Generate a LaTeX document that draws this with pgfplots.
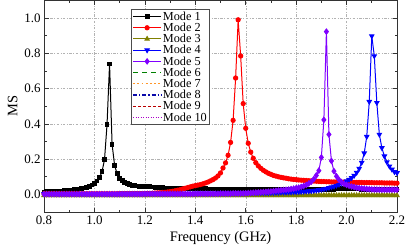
\documentclass[border=0pt]{standalone}
\usepackage{fontspec}
\setmainfont{Liberation Serif}
\usepackage{pgfplots}
\pgfplotsset{compat=1.18}
\definecolor{cviolet}{RGB}{128,0,255}
\definecolor{colive}{RGB}{128,128,0}
\definecolor{cgreen}{RGB}{0,128,0}
\definecolor{corange}{RGB}{255,150,40}
\definecolor{cnavy}{RGB}{10,10,170}
\definecolor{cdred}{RGB}{185,0,0}
\definecolor{cpurple}{RGB}{170,0,200}
\begin{document}
\begin{tikzpicture}
\begin{axis}[name=ax, scale only axis, width=353bp, height=211.7bp,
  xmin=0.8, xmax=2.2, ymin=-0.1, ymax=1.1,
  xtick={0.8,1.0,1.2,1.4,1.6,1.8,2.0,2.2},
  ytick={0,0.2,0.4,0.6,0.8,1.0},
  minor x tick num=1, minor y tick num=1,
  tick align=inside,
  major tick length=4.5bp, minor tick length=2.5bp,
  every tick/.style={black!80, line width=0.7bp},
  /pgf/number format/assume math mode=true,
  xticklabel style={/pgf/number format/.cd, fixed, fixed zerofill, precision=1},
  yticklabel style={/pgf/number format/.cd, fixed, fixed zerofill, precision=1},
  ticklabel style={font=\fontsize{13}{15}\selectfont},
  label style={font=\fontsize{14.5}{17}\selectfont},
  xlabel={Frequency (GHz)}, ylabel={MS},
  grid=major,
  major grid style={black!30, line width=0.4bp, dash pattern=on 2.5bp off 1.5bp on 0.8bp off 1.5bp},
  axis line style={black!80, line width=0.9bp},
  legend style={at={(0.2465,0.959)}, anchor=north west, draw=black!70, line width=0.6bp,
    font=\fontsize{12.3}{14}\selectfont, inner sep=1.2bp, row sep=-0.8bp,
    nodes={inner sep=1.2bp, text height=8.6bp, text depth=1bp}},
  legend cell align=left,
  legend image code/.code={\draw[mark repeat=2,mark phase=2,#1] plot coordinates {(0bp,0bp) (14bp,0bp) (28bp,0bp)};},
]
\addplot[black, line width=1bp, mark=square*, mark size=1.9bp, mark options={solid}] coordinates {
(0.80,0.014)(0.81,0.015)(0.82,0.015)(0.83,0.016)(0.84,0.017)(0.85,0.018)(0.86,0.018)(0.87,0.019)(0.88,0.021)(0.89,0.022)
(0.90,0.023)(0.91,0.025)(0.92,0.026)(0.93,0.029)(0.94,0.031)(0.95,0.034)(0.96,0.037)(0.97,0.041)(0.98,0.047)(0.99,0.054)
(1.00,0.063)(1.01,0.076)(1.02,0.095)(1.03,0.129)(1.04,0.197)(1.05,0.397)(1.06,0.740)(1.07,0.285)(1.08,0.165)(1.09,0.117)
(1.10,0.092)(1.11,0.077)(1.12,0.068)(1.13,0.061)(1.14,0.056)(1.15,0.053)(1.16,0.050)(1.17,0.048)(1.18,0.047)(1.19,0.046)
(1.20,0.046)(1.21,0.044)(1.22,0.043)(1.23,0.042)(1.24,0.041)(1.25,0.040)(1.26,0.039)(1.27,0.038)(1.28,0.037)(1.29,0.037)
(1.30,0.037)(1.31,0.036)(1.32,0.036)(1.33,0.035)(1.34,0.035)(1.35,0.034)(1.36,0.034)(1.37,0.034)(1.38,0.033)(1.39,0.033)
(1.40,0.033)(1.41,0.032)(1.42,0.032)(1.43,0.032)(1.44,0.032)(1.45,0.031)(1.46,0.031)(1.47,0.031)(1.48,0.031)(1.49,0.030)
(1.50,0.030)(1.51,0.030)(1.52,0.030)(1.53,0.030)(1.54,0.030)(1.55,0.029)(1.56,0.029)(1.57,0.029)(1.58,0.029)(1.59,0.029)
(1.60,0.029)(1.61,0.028)(1.62,0.028)(1.63,0.028)(1.64,0.028)(1.65,0.028)(1.66,0.028)(1.67,0.028)(1.68,0.028)(1.69,0.028)
(1.70,0.028)(1.71,0.027)(1.72,0.027)(1.73,0.027)(1.74,0.027)(1.75,0.027)(1.76,0.027)(1.77,0.027)(1.78,0.027)(1.79,0.027)
(1.80,0.027)(1.81,0.027)(1.82,0.027)(1.83,0.027)(1.84,0.027)(1.85,0.027)(1.86,0.027)(1.87,0.027)(1.88,0.027)(1.89,0.027)
(1.90,0.027)(1.91,0.028)(1.92,0.028)(1.93,0.028)(1.94,0.029)(1.95,0.030)(1.96,0.031)(1.97,0.033)(1.98,0.034)(1.99,0.035)
(2.00,0.035)(2.01,0.035)(2.02,0.034)(2.03,0.033)(2.04,0.032)(2.05,0.031)(2.06,0.030)(2.07,0.030)(2.08,0.030)(2.09,0.030)
(2.10,0.030)(2.11,0.030)(2.12,0.030)(2.13,0.030)(2.14,0.030)(2.15,0.030)(2.16,0.030)(2.17,0.030)(2.18,0.030)(2.19,0.030)(2.20,0.030)};
\addlegendentry{Mode 1}
\addplot[red, line width=1bp, mark=*, mark size=2.1bp, mark options={solid}] coordinates {
(0.80,0.004)(0.81,0.004)(0.82,0.004)(0.83,0.004)(0.84,0.004)(0.85,0.004)(0.86,0.004)(0.87,0.004)(0.88,0.004)(0.89,0.004)
(0.90,0.004)(0.91,0.004)(0.92,0.004)(0.93,0.004)(0.94,0.004)(0.95,0.004)(0.96,0.004)(0.97,0.004)(0.98,0.004)(0.99,0.004)
(1.00,0.004)(1.01,0.004)(1.02,0.004)(1.03,0.004)(1.04,0.004)(1.05,0.004)(1.06,0.004)(1.07,0.004)(1.08,0.004)(1.09,0.004)
(1.10,0.005)(1.11,0.005)(1.12,0.005)(1.13,0.005)(1.14,0.005)(1.15,0.005)(1.16,0.005)(1.17,0.005)(1.18,0.005)(1.19,0.005)
(1.20,0.005)(1.21,0.006)(1.22,0.006)(1.23,0.007)(1.24,0.008)(1.25,0.009)(1.26,0.010)(1.27,0.011)(1.28,0.012)(1.29,0.014)
(1.30,0.016)(1.31,0.018)(1.32,0.021)(1.33,0.024)(1.34,0.027)(1.35,0.031)(1.36,0.035)(1.37,0.039)(1.38,0.043)(1.39,0.047)
(1.40,0.050)(1.41,0.053)(1.42,0.056)(1.43,0.060)(1.44,0.065)(1.45,0.070)(1.46,0.077)(1.47,0.084)(1.48,0.093)(1.49,0.105)
(1.50,0.122)(1.51,0.150)(1.52,0.179)(1.53,0.222)(1.54,0.295)(1.55,0.420)(1.56,0.660)(1.57,0.990)(1.58,0.785)(1.59,0.515)
(1.60,0.375)(1.61,0.290)(1.62,0.240)(1.63,0.205)(1.64,0.180)(1.65,0.162)(1.66,0.148)(1.67,0.137)(1.68,0.128)(1.69,0.120)
(1.70,0.114)(1.71,0.108)(1.72,0.104)(1.73,0.100)(1.74,0.097)(1.75,0.094)(1.76,0.092)(1.77,0.089)(1.78,0.087)(1.79,0.085)
(1.80,0.084)(1.81,0.082)(1.82,0.081)(1.83,0.080)(1.84,0.079)(1.85,0.078)(1.86,0.077)(1.87,0.076)(1.88,0.075)(1.89,0.074)
(1.90,0.073)(1.91,0.073)(1.92,0.072)(1.93,0.072)(1.94,0.071)(1.95,0.071)(1.96,0.071)(1.97,0.070)(1.98,0.070)(1.99,0.070)
(2.00,0.069)(2.01,0.069)(2.02,0.069)(2.03,0.068)(2.04,0.068)(2.05,0.068)(2.06,0.068)(2.07,0.067)(2.08,0.067)(2.09,0.067)
(2.10,0.067)(2.11,0.066)(2.12,0.066)(2.13,0.066)(2.14,0.066)(2.15,0.065)(2.16,0.065)(2.17,0.065)(2.18,0.065)(2.19,0.064)(2.20,0.064)};
\addlegendentry{Mode 2}
\addplot[colive, line width=1bp, mark=triangle*, mark size=2.4bp, mark options={solid}] coordinates {
(0.80,-0.005)(0.81,-0.005)(0.82,-0.005)(0.83,-0.005)(0.84,-0.005)(0.85,-0.005)(0.86,-0.005)(0.87,-0.005)(0.88,-0.005)(0.89,-0.005)
(0.90,-0.005)(0.91,-0.005)(0.92,-0.005)(0.93,-0.005)(0.94,-0.005)(0.95,-0.005)(0.96,-0.005)(0.97,-0.005)(0.98,-0.005)(0.99,-0.005)
(1.00,-0.005)(1.01,-0.005)(1.02,-0.005)(1.03,-0.005)(1.04,-0.005)(1.05,-0.005)(1.06,-0.005)(1.07,-0.005)(1.08,-0.005)(1.09,-0.005)
(1.10,-0.005)(1.11,-0.005)(1.12,-0.005)(1.13,-0.005)(1.14,-0.005)(1.15,-0.005)(1.16,-0.005)(1.17,-0.005)(1.18,-0.005)(1.19,-0.005)
(1.20,-0.005)(1.21,-0.005)(1.22,-0.005)(1.23,-0.005)(1.24,-0.005)(1.25,-0.005)(1.26,-0.005)(1.27,-0.005)(1.28,-0.005)(1.29,-0.005)
(1.30,-0.005)(1.31,-0.005)(1.32,-0.005)(1.33,-0.005)(1.34,-0.005)(1.35,-0.005)(1.36,-0.005)(1.37,-0.005)(1.38,-0.005)(1.39,-0.005)
(1.40,-0.005)(1.41,-0.005)(1.42,-0.005)(1.43,-0.005)(1.44,-0.005)(1.45,-0.005)(1.46,-0.005)(1.47,-0.005)(1.48,-0.005)(1.49,-0.005)
(1.50,-0.005)(1.51,-0.005)(1.52,-0.005)(1.53,-0.005)(1.54,-0.005)(1.55,-0.005)(1.56,-0.005)(1.57,-0.005)(1.58,-0.005)(1.59,-0.005)
(1.60,-0.005)(1.61,-0.005)(1.62,-0.005)(1.63,-0.005)(1.64,-0.005)(1.65,-0.005)(1.66,-0.005)(1.67,-0.005)(1.68,-0.005)(1.69,-0.005)
(1.70,-0.005)(1.71,-0.005)(1.72,-0.005)(1.73,-0.005)(1.74,-0.005)(1.75,-0.005)(1.76,-0.005)(1.77,-0.005)(1.78,-0.005)(1.79,-0.005)
(1.80,-0.005)(1.81,-0.005)(1.82,-0.005)(1.83,-0.005)(1.84,-0.005)(1.85,-0.005)(1.86,-0.005)(1.87,-0.005)(1.88,-0.005)(1.89,-0.005)
(1.90,-0.005)(1.91,-0.005)(1.92,-0.005)(1.93,-0.005)(1.94,-0.005)(1.95,-0.005)(1.96,-0.005)(1.97,-0.005)(1.98,-0.005)(1.99,-0.005)
(2.00,-0.005)(2.01,-0.005)(2.02,-0.005)(2.03,-0.005)(2.04,-0.005)(2.05,-0.005)(2.06,-0.005)(2.07,-0.005)(2.08,-0.005)(2.09,-0.005)
(2.10,-0.005)(2.11,-0.005)(2.12,-0.005)(2.13,-0.005)(2.14,-0.005)(2.15,-0.005)(2.16,-0.005)(2.17,-0.005)(2.18,-0.005)(2.19,-0.005)(2.20,-0.005)};
\addlegendentry{Mode 3}
\addplot[blue, line width=1bp, mark=triangle*, mark size=2.4bp, mark options={solid, rotate=180}] coordinates {
(0.80,0.004)(0.81,0.004)(0.82,0.004)(0.83,0.004)(0.84,0.004)(0.85,0.004)(0.86,0.004)(0.87,0.004)(0.88,0.004)(0.89,0.004)
(0.90,0.004)(0.91,0.004)(0.92,0.004)(0.93,0.004)(0.94,0.004)(0.95,0.004)(0.96,0.004)(0.97,0.004)(0.98,0.004)(0.99,0.004)
(1.00,0.004)(1.01,0.004)(1.02,0.004)(1.03,0.004)(1.04,0.004)(1.05,0.004)(1.06,0.004)(1.07,0.004)(1.08,0.004)(1.09,0.004)
(1.10,0.005)(1.11,0.005)(1.12,0.005)(1.13,0.005)(1.14,0.005)(1.15,0.005)(1.16,0.005)(1.17,0.005)(1.18,0.005)(1.19,0.005)
(1.20,0.005)(1.21,0.005)(1.22,0.005)(1.23,0.005)(1.24,0.005)(1.25,0.005)(1.26,0.005)(1.27,0.005)(1.28,0.005)(1.29,0.005)
(1.30,0.005)(1.31,0.005)(1.32,0.005)(1.33,0.005)(1.34,0.005)(1.35,0.005)(1.36,0.005)(1.37,0.005)(1.38,0.005)(1.39,0.005)
(1.40,0.006)(1.41,0.006)(1.42,0.006)(1.43,0.006)(1.44,0.006)(1.45,0.006)(1.46,0.006)(1.47,0.006)(1.48,0.006)(1.49,0.006)
(1.50,0.007)(1.51,0.007)(1.52,0.007)(1.53,0.007)(1.54,0.007)(1.55,0.007)(1.56,0.007)(1.57,0.007)(1.58,0.007)(1.59,0.007)
(1.60,0.008)(1.61,0.008)(1.62,0.008)(1.63,0.008)(1.64,0.008)(1.65,0.009)(1.66,0.009)(1.67,0.009)(1.68,0.009)(1.69,0.009)
(1.70,0.010)(1.71,0.010)(1.72,0.011)(1.73,0.011)(1.74,0.012)(1.75,0.012)(1.76,0.012)(1.77,0.013)(1.78,0.013)(1.79,0.014)
(1.80,0.014)(1.81,0.015)(1.82,0.016)(1.83,0.017)(1.84,0.018)(1.85,0.019)(1.86,0.020)(1.87,0.022)(1.88,0.024)(1.89,0.026)
(1.90,0.028)(1.91,0.031)(1.92,0.034)(1.93,0.038)(1.94,0.042)(1.95,0.046)(1.96,0.051)(1.97,0.056)(1.98,0.062)(1.99,0.068)
(2.00,0.076)(2.01,0.084)(2.02,0.094)(2.03,0.107)(2.04,0.124)(2.05,0.147)(2.06,0.181)(2.07,0.234)(2.08,0.328)(2.09,0.526)
(2.10,0.898)(2.11,0.785)(2.12,0.520)(2.13,0.340)(2.14,0.264)(2.15,0.217)(2.16,0.184)(2.17,0.160)(2.18,0.142)(2.19,0.128)(2.20,0.122)};
\addlegendentry{Mode 4}
\addplot[cviolet, line width=1bp, mark=diamond*, mark size=2.6bp, mark options={solid}] coordinates {
(0.80,0.002)(0.81,0.002)(0.82,0.002)(0.83,0.002)(0.84,0.002)(0.85,0.002)(0.86,0.002)(0.87,0.002)(0.88,0.002)(0.89,0.002)
(0.90,0.002)(0.91,0.002)(0.92,0.002)(0.93,0.002)(0.94,0.002)(0.95,0.002)(0.96,0.002)(0.97,0.002)(0.98,0.002)(0.99,0.002)
(1.00,0.002)(1.01,0.002)(1.02,0.002)(1.03,0.002)(1.04,0.002)(1.05,0.002)(1.06,0.002)(1.07,0.002)(1.08,0.002)(1.09,0.002)
(1.10,0.002)(1.11,0.002)(1.12,0.002)(1.13,0.002)(1.14,0.002)(1.15,0.002)(1.16,0.002)(1.17,0.002)(1.18,0.002)(1.19,0.002)
(1.20,0.003)(1.21,0.003)(1.22,0.003)(1.23,0.003)(1.24,0.003)(1.25,0.003)(1.26,0.003)(1.27,0.003)(1.28,0.003)(1.29,0.003)
(1.30,0.003)(1.31,0.003)(1.32,0.003)(1.33,0.003)(1.34,0.003)(1.35,0.003)(1.36,0.003)(1.37,0.003)(1.38,0.003)(1.39,0.003)
(1.40,0.004)(1.41,0.004)(1.42,0.004)(1.43,0.004)(1.44,0.004)(1.45,0.004)(1.46,0.004)(1.47,0.004)(1.48,0.004)(1.49,0.004)
(1.50,0.005)(1.51,0.005)(1.52,0.005)(1.53,0.005)(1.54,0.005)(1.55,0.006)(1.56,0.006)(1.57,0.006)(1.58,0.006)(1.59,0.006)
(1.60,0.007)(1.61,0.008)(1.62,0.009)(1.63,0.010)(1.64,0.011)(1.65,0.012)(1.66,0.013)(1.67,0.014)(1.68,0.015)(1.69,0.016)
(1.70,0.017)(1.71,0.019)(1.72,0.021)(1.73,0.022)(1.74,0.024)(1.75,0.025)(1.76,0.027)(1.77,0.028)(1.78,0.031)(1.79,0.033)
(1.80,0.036)(1.81,0.039)(1.82,0.043)(1.83,0.048)(1.84,0.054)(1.85,0.062)(1.86,0.072)(1.87,0.087)(1.88,0.108)(1.89,0.135)
(1.90,0.210)(1.91,0.423)(1.92,0.923)(1.93,0.340)(1.94,0.190)(1.95,0.132)(1.96,0.103)(1.97,0.083)(1.98,0.070)(1.99,0.060)
(2.00,0.054)(2.01,0.049)(2.02,0.045)(2.03,0.042)(2.04,0.038)(2.05,0.036)(2.06,0.034)(2.07,0.033)(2.08,0.031)(2.09,0.030)
(2.10,0.029)(2.11,0.028)(2.12,0.028)(2.13,0.027)(2.14,0.027)(2.15,0.027)(2.16,0.027)(2.17,0.027)(2.18,0.027)(2.19,0.027)(2.20,0.027)};
\addlegendentry{Mode 5}
\addplot[cgreen, line width=1.1bp, dash pattern=on 5bp off 4bp] coordinates {
(0.80,0.000)(1.00,0.000)(1.20,0.000)(1.40,0.000)(1.60,0.000)(1.80,0.000)(2.00,0.000)(2.20,0.000)};
\addlegendentry{Mode 6}
\addplot[corange, line width=1.2bp, dash pattern=on 1.6bp off 2.6bp] coordinates {
(0.80,0.002)(1.00,0.002)(1.20,0.002)(1.40,0.002)(1.60,0.002)(1.80,0.002)(2.00,0.002)(2.20,0.002)};
\addlegendentry{Mode 7}
\addplot[cnavy, line width=1.1bp, dash pattern=on 4bp off 2bp on 1.2bp off 2bp] coordinates {
(0.80,-0.002)(1.00,-0.002)(1.20,-0.002)(1.40,-0.002)(1.60,-0.002)(1.80,-0.002)(2.00,-0.002)(2.20,-0.002)};
\addlegendentry{Mode 8}
\addplot[cdred, line width=1.1bp, dash pattern=on 3bp off 2bp] coordinates {
(0.80,0.000)(1.00,0.000)(1.20,0.000)(1.40,0.000)(1.60,0.000)(1.80,0.000)(2.00,0.000)(2.20,0.000)};
\addlegendentry{Mode 9}
\addplot[cpurple, line width=1.1bp, dash pattern=on 1bp off 1.5bp] coordinates {
(0.80,-0.006)(1.00,-0.006)(1.20,-0.006)(1.40,-0.006)(1.60,-0.006)(1.80,-0.006)(2.00,-0.006)(2.20,-0.006)};
\addlegendentry{Mode 10}
\end{axis}
\pgfresetboundingbox
\path[use as bounding box] ([xshift=-44bp,yshift=-39bp]ax.south west) rectangle ([xshift=10bp,yshift=0.4bp]ax.north east);
\end{tikzpicture}
\end{document}
